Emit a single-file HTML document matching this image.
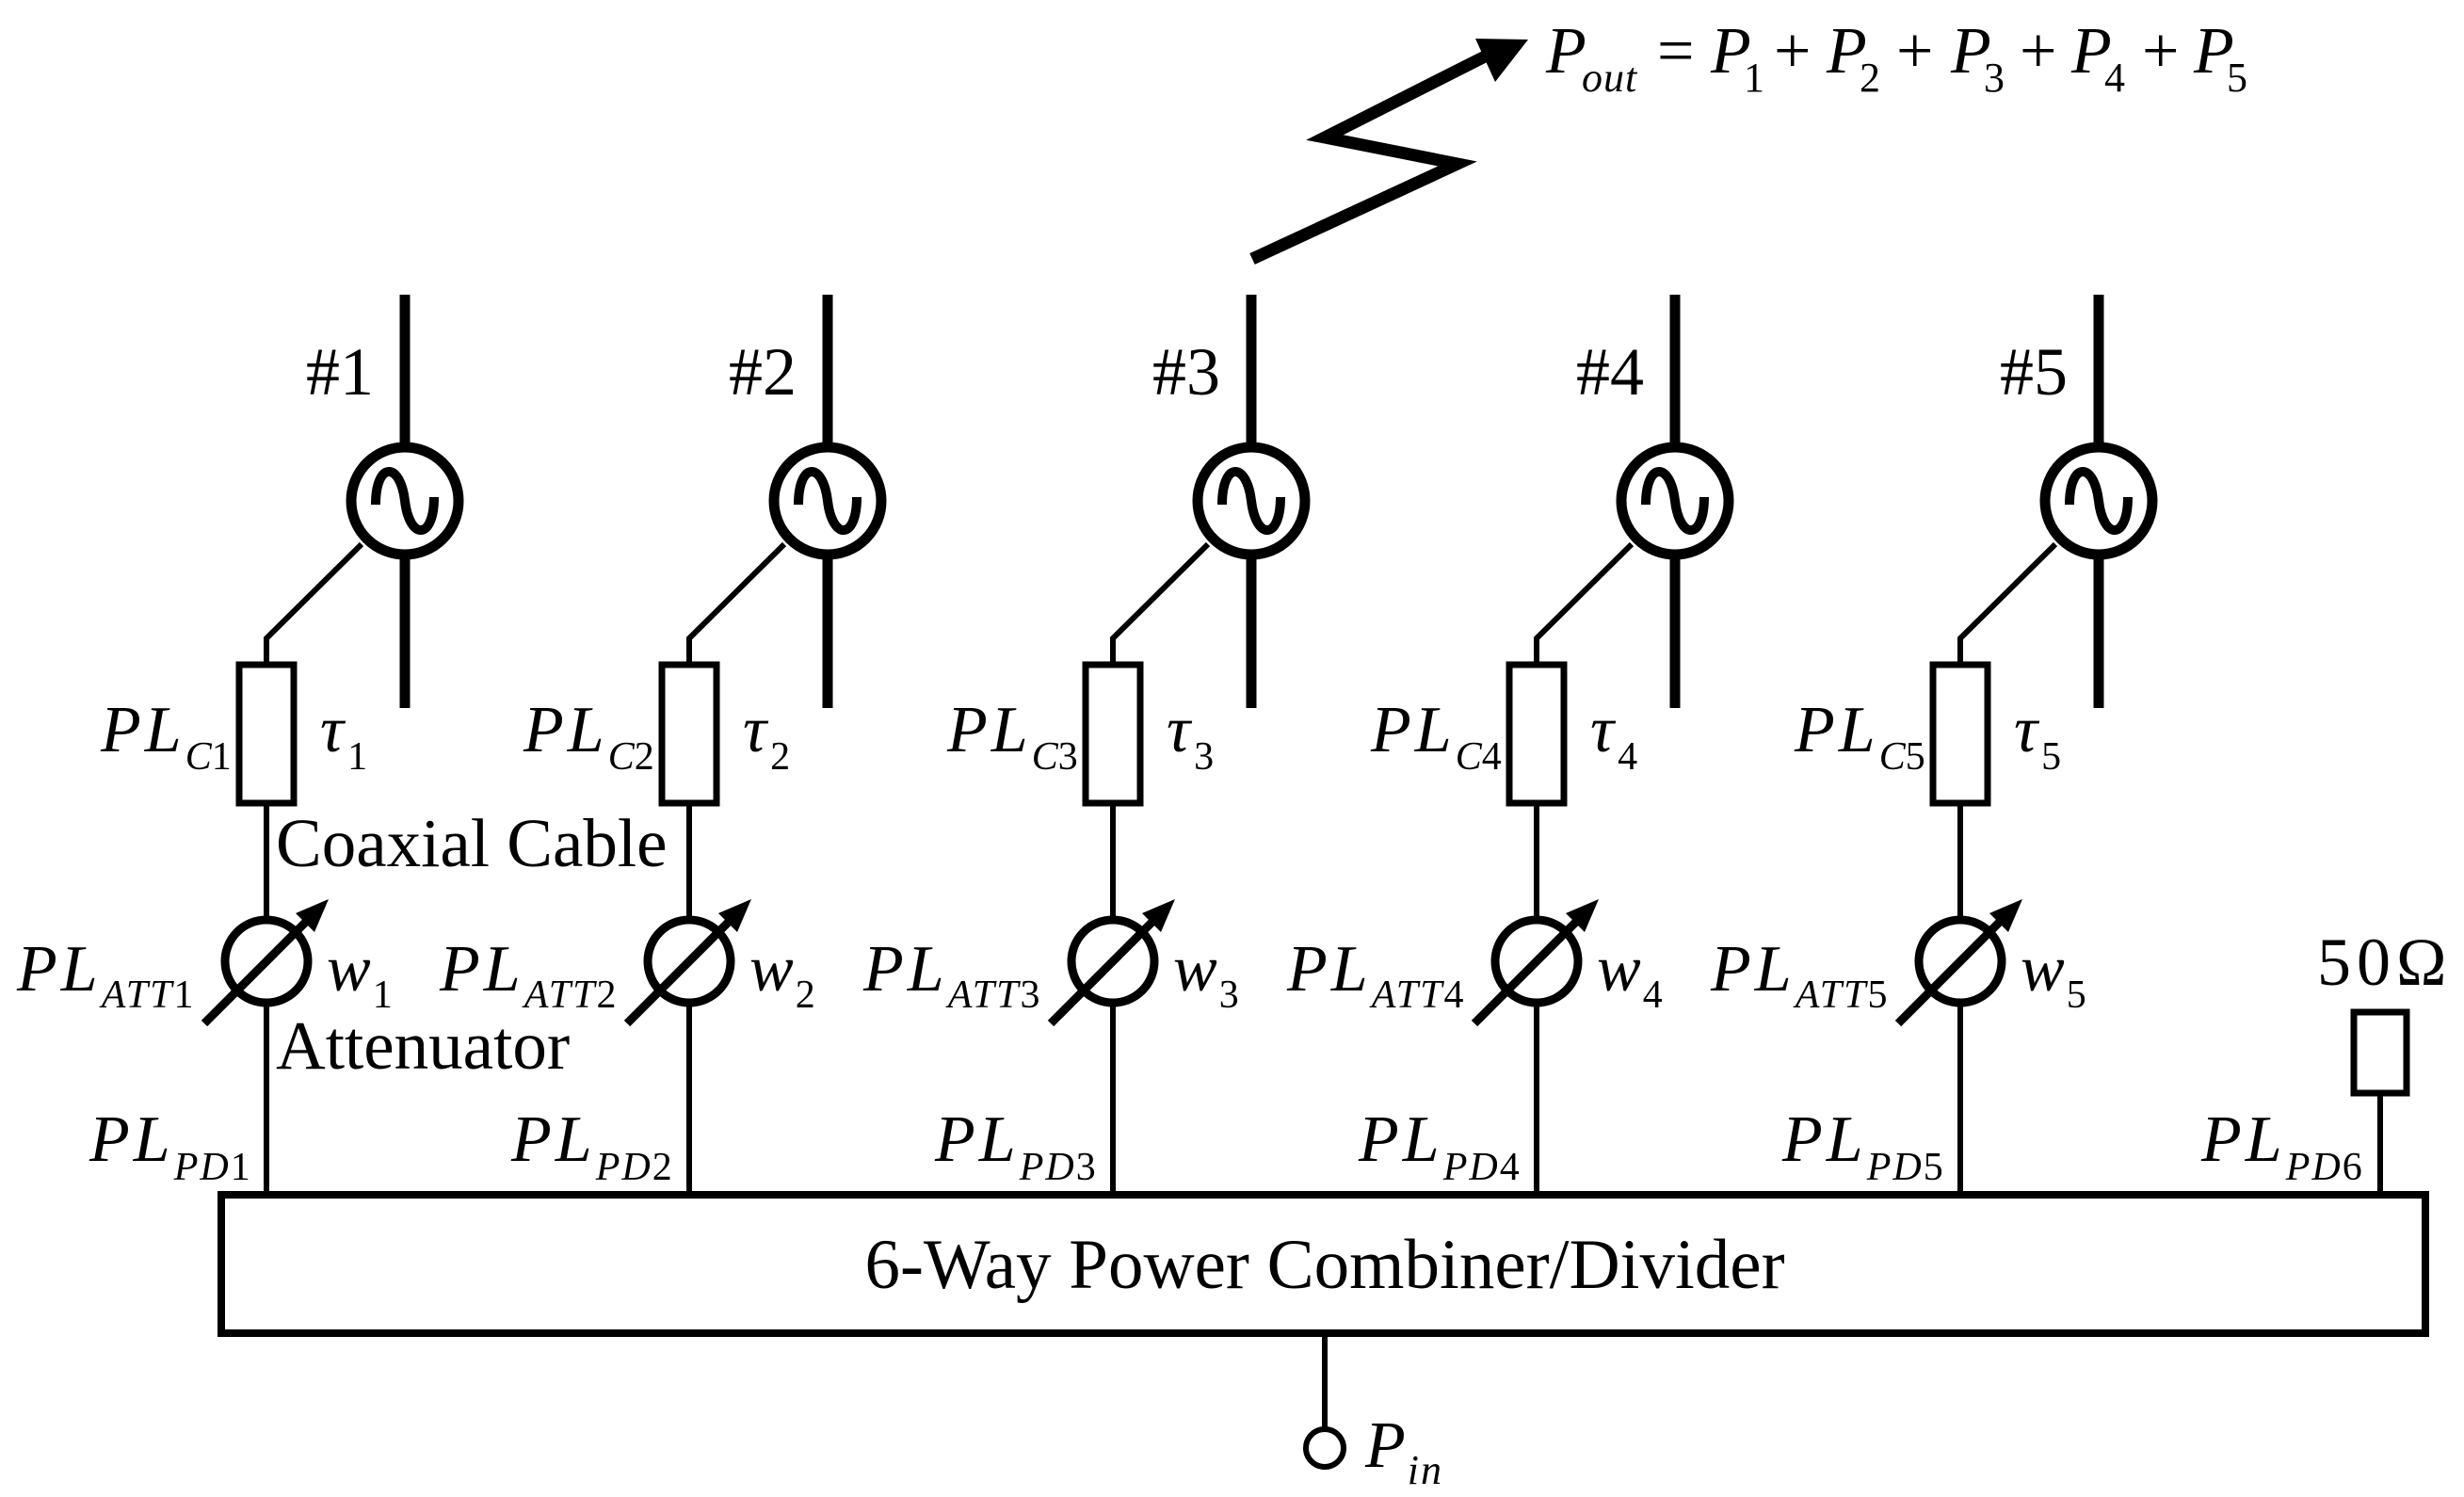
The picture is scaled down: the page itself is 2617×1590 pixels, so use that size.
<!DOCTYPE html>
<html><head><meta charset="utf-8"><style>
html,body{margin:0;padding:0;background:#fff;width:2617px;height:1590px;overflow:hidden}
svg{display:block}
text{font-family:"Liberation Serif",serif;fill:#000}
.i{font-style:italic}
</style></head><body>
<svg width="2617" height="1590" viewBox="0 0 2617 1590" xmlns="http://www.w3.org/2000/svg">
<defs>
<g id="col">
  <line x1="147" y1="313" x2="147" y2="470" stroke="#000" stroke-width="11"/>
  <line x1="147" y1="594" x2="147" y2="752" stroke="#000" stroke-width="11"/>
  <circle cx="147" cy="532" r="57" fill="#fff" stroke="#000" stroke-width="11"/>
  <path d="M116,536 C116,490 142,490 147,532 C152,574 178,574 178,528" fill="none" stroke="#000" stroke-width="10"/>
  <polyline points="101,578 0,678 0,703" fill="none" stroke="#000" stroke-width="6"/>
  <rect x="-29" y="706" width="58" height="147" fill="#fff" stroke="#000" stroke-width="7"/>
  <line x1="0" y1="856" x2="0" y2="973" stroke="#000" stroke-width="6"/>
  <circle cx="0" cy="1021" r="44" fill="#fff" stroke="#000" stroke-width="9"/>
  <line x1="0" y1="1069" x2="0" y2="1265" stroke="#000" stroke-width="6"/>
  <line x1="-66" y1="1087" x2="45" y2="976" stroke="#000" stroke-width="9"/>
  <polygon points="66,955 51,990 31,970" fill="#000"/>
</g>
</defs>

<use href="#col" x="283"/>
<use href="#col" x="732"/>
<use href="#col" x="1182"/>
<use href="#col" x="1632"/>
<use href="#col" x="2082"/>

<g font-size="72">
<text x="325" y="419">#1</text>
<text x="774" y="419">#2</text>
<text x="1224" y="419">#3</text>
<text x="1674" y="419">#4</text>
<text x="2124" y="419">#5</text>
</g>

<g>
<text class="i" font-size="70" letter-spacing="4" x="107" y="798">PL<tspan font-size="42" dy="19" letter-spacing="0">C</tspan><tspan font-size="42" font-style="normal">1</tspan></text>
<text class="i" font-size="70" letter-spacing="4" x="556" y="798">PL<tspan font-size="42" dy="19" letter-spacing="0">C</tspan><tspan font-size="42" font-style="normal">2</tspan></text>
<text class="i" font-size="70" letter-spacing="4" x="1006" y="798">PL<tspan font-size="42" dy="19" letter-spacing="0">C</tspan><tspan font-size="42" font-style="normal">3</tspan></text>
<text class="i" font-size="70" letter-spacing="4" x="1456" y="798">PL<tspan font-size="42" dy="19" letter-spacing="0">C</tspan><tspan font-size="42" font-style="normal">4</tspan></text>
<text class="i" font-size="70" letter-spacing="4" x="1906" y="798">PL<tspan font-size="42" dy="19" letter-spacing="0">C</tspan><tspan font-size="42" font-style="normal">5</tspan></text>

<text class="i" font-size="70" x="340" y="798">τ<tspan font-size="42" dy="19" font-style="normal" dx="4">1</tspan></text>
<text class="i" font-size="70" x="789" y="798">τ<tspan font-size="42" dy="19" font-style="normal" dx="4">2</tspan></text>
<text class="i" font-size="70" x="1239" y="798">τ<tspan font-size="42" dy="19" font-style="normal" dx="4">3</tspan></text>
<text class="i" font-size="70" x="1689" y="798">τ<tspan font-size="42" dy="19" font-style="normal" dx="4">4</tspan></text>
<text class="i" font-size="70" x="2139" y="798">τ<tspan font-size="42" dy="19" font-style="normal" dx="4">5</tspan></text>
</g>

<g>
<text class="i" font-size="70" letter-spacing="4" x="18" y="1052">PL<tspan font-size="42" dy="18" letter-spacing="2">ATT</tspan><tspan font-size="42" font-style="normal">1</tspan></text>
<text class="i" font-size="70" letter-spacing="4" x="467" y="1052">PL<tspan font-size="42" dy="18" letter-spacing="2">ATT</tspan><tspan font-size="42" font-style="normal">2</tspan></text>
<text class="i" font-size="70" letter-spacing="4" x="917" y="1052">PL<tspan font-size="42" dy="18" letter-spacing="2">ATT</tspan><tspan font-size="42" font-style="normal">3</tspan></text>
<text class="i" font-size="70" letter-spacing="4" x="1367" y="1052">PL<tspan font-size="42" dy="18" letter-spacing="2">ATT</tspan><tspan font-size="42" font-style="normal">4</tspan></text>
<text class="i" font-size="70" letter-spacing="4" x="1817" y="1052">PL<tspan font-size="42" dy="18" letter-spacing="2">ATT</tspan><tspan font-size="42" font-style="normal">5</tspan></text>

<text class="i" font-size="70" x="347" y="1052">w<tspan font-size="42" dy="18" font-style="normal" dx="2">1</tspan></text>
<text class="i" font-size="70" x="796" y="1052">w<tspan font-size="42" dy="18" font-style="normal" dx="2">2</tspan></text>
<text class="i" font-size="70" x="1246" y="1052">w<tspan font-size="42" dy="18" font-style="normal" dx="2">3</tspan></text>
<text class="i" font-size="70" x="1696" y="1052">w<tspan font-size="42" dy="18" font-style="normal" dx="2">4</tspan></text>
<text class="i" font-size="70" x="2146" y="1052">w<tspan font-size="42" dy="18" font-style="normal" dx="2">5</tspan></text>
</g>

<g>
<text class="i" font-size="70" letter-spacing="4" x="95" y="1233">PL<tspan font-size="42" dy="20" letter-spacing="2">PD</tspan><tspan font-size="42" font-style="normal">1</tspan></text>
<text class="i" font-size="70" letter-spacing="4" x="543" y="1233">PL<tspan font-size="42" dy="20" letter-spacing="2">PD</tspan><tspan font-size="42" font-style="normal">2</tspan></text>
<text class="i" font-size="70" letter-spacing="4" x="993" y="1233">PL<tspan font-size="42" dy="20" letter-spacing="2">PD</tspan><tspan font-size="42" font-style="normal">3</tspan></text>
<text class="i" font-size="70" letter-spacing="4" x="1443" y="1233">PL<tspan font-size="42" dy="20" letter-spacing="2">PD</tspan><tspan font-size="42" font-style="normal">4</tspan></text>
<text class="i" font-size="70" letter-spacing="4" x="1893" y="1233">PL<tspan font-size="42" dy="20" letter-spacing="2">PD</tspan><tspan font-size="42" font-style="normal">5</tspan></text>
<text class="i" font-size="70" letter-spacing="4" x="2338" y="1233">PL<tspan font-size="42" dy="20" letter-spacing="2">PD</tspan><tspan font-size="42" font-style="normal">6</tspan></text>
</g>

<text font-size="73" x="293" y="920">Coaxial Cable</text>
<text font-size="73" x="293" y="1135">Attenuator</text>

<text font-size="72" x="2461" y="1046" letter-spacing="6">50Ω</text>
<rect x="2500" y="1075" width="56" height="86" fill="#fff" stroke="#000" stroke-width="7"/>
<line x1="2528" y1="1164" x2="2528" y2="1265" stroke="#000" stroke-width="6"/>

<rect x="235" y="1269" width="2341" height="147" fill="#fff" stroke="#000" stroke-width="8"/>
<text font-size="75" x="1407" y="1368" text-anchor="middle">6-Way Power Combiner/Divider</text>

<line x1="1407" y1="1420" x2="1407" y2="1518" stroke="#000" stroke-width="6"/>
<circle cx="1407" cy="1538" r="20" fill="#fff" stroke="#000" stroke-width="6"/>
<text class="i" font-size="70" x="1450" y="1558">P<tspan font-size="44" dy="18" dx="2" letter-spacing="2">in</tspan></text>

<polyline points="1330,275 1548,174 1407,146 1585,56" fill="none" stroke="#000" stroke-width="13" stroke-linejoin="miter"/>
<polygon points="1623,42 1567,41 1588,87" fill="#000"/>

<g>
<text class="i" font-size="70" x="1642" y="77">P</text>
<text class="i" font-size="44" x="1680" y="97" letter-spacing="1">out</text>
<text font-size="70" x="1760" y="77">=</text>
<text class="i" font-size="70" x="1817" y="77">P</text>
<text font-size="44" x="1852" y="97">1</text>
<text font-size="70" x="1884" y="77">+</text>
<text class="i" font-size="70" x="1940" y="77">P</text>
<text font-size="44" x="1975" y="97">2</text>
<text font-size="70" x="2014" y="77">+</text>
<text class="i" font-size="70" x="2072" y="77">P</text>
<text font-size="44" x="2107" y="97">3</text>
<text font-size="70" x="2145" y="77">+</text>
<text class="i" font-size="70" x="2200" y="77">P</text>
<text font-size="44" x="2235" y="97">4</text>
<text font-size="70" x="2275" y="77">+</text>
<text class="i" font-size="70" x="2330" y="77">P</text>
<text font-size="44" x="2365" y="97">5</text>
</g>
</svg>
</body></html>
